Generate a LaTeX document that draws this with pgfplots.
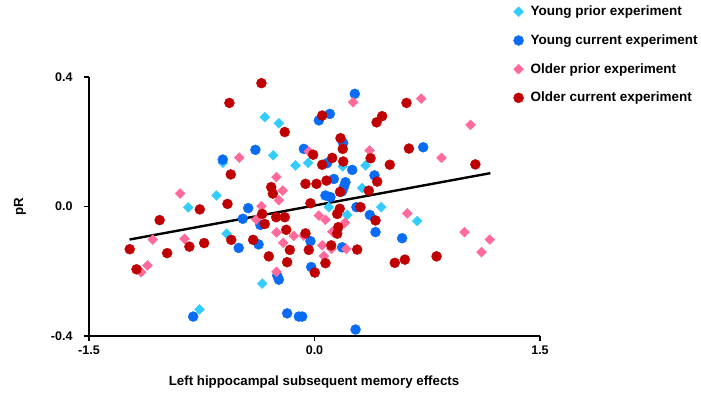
\documentclass[border=0pt]{standalone}
\usepackage{fontspec}
\setmainfont{Liberation Sans}
\usepackage{pgfplots}
\pgfplotsset{compat=1.18}

\definecolor{ypri}{HTML}{33CCFF}
\definecolor{ycur}{HTML}{0A6CF5}
\definecolor{opri}{HTML}{FF6A9A}
\definecolor{ocur}{HTML}{C00000}

\begin{document}
\begin{tikzpicture}
\path[use as bounding box] (0,0) rectangle (701pt,400pt);
\begin{axis}[
    at={(89pt,64pt)}, anchor=south west,
    scale only axis,
    width=451pt, height=259pt,
    xmin=-1.5, xmax=1.5, ymin=-0.4, ymax=0.4,
    axis lines*=left,
    axis line style={line width=2.2pt},
    xtick={-1.5,0,1.5}, ytick={-0.4,0,0.4},
    xticklabels={\textbf{-1.5},\textbf{0.0},\textbf{1.5}},
    yticklabels={\textbf{-0.4},\textbf{0.0},\textbf{0.4}},
    tick align=outside,
    major tick length=5pt,
    tick style={line width=1.6pt, black},
    tick label style={font=\fontsize{12.5}{14}\selectfont\bfseries},
    xticklabel style={yshift=-1pt},
    yticklabel style={xshift=-8pt},
    xlabel={Left hippocampal subsequent memory effects},
    ylabel={pR},
    xlabel style={font=\fontsize{13.3}{15}\selectfont\bfseries, at={(axis description cs:0.499,-0.178)}, anchor=center},
    ylabel style={font=\fontsize{13.3}{15}\selectfont\bfseries, at={(axis description cs:-0.153,0.5)}, anchor=center},
    clip=false,
    legend style={at={(rel axis cs:0.941,1.282)}, anchor=north west, draw=none, fill=none, inner sep=0pt,
        font=\fontsize{13.5}{15}\selectfont\bfseries, row sep=13.4pt,
        /tikz/every odd column/.append style={column sep=5pt}},
    legend cell align=left,
]
% Young prior experiment
\addplot[only marks, mark=square*, mark size=3.5pt, color=ypri, mark options={draw=ypri, fill=ypri, rotate=45}] coordinates {
(-0.331,0.276) (-0.237,0.257) (-0.275,0.158) (-0.126,0.127) (-0.042,0.135)
(-0.610,0.135) (0.188,0.124) (0.339,0.127) (0.317,0.057) (-0.652,0.034)
(-0.840,-0.003) (0.095,-0.002) (0.444,-0.002) (0.218,-0.026) (-0.585,-0.084)
(0.683,-0.045) (-0.348,-0.238) (-0.765,-0.318)
};
\addlegendentry{Young prior experiment}
% Young current experiment
\addplot[only marks, mark=*, mark size=5pt, color=ycur, mark options={draw=ycur, fill=ycur}] coordinates {
(0.268,0.348) (0.029,0.266) (0.102,0.286) (0.191,0.196) (-0.071,0.178)
(-0.393,0.175) (-0.610,0.145) (0.084,0.134) (0.251,0.113) (0.399,0.096)
(0.723,0.183) (0.129,0.085) (0.206,0.075) (0.195,0.060) (0.184,0.047)
(0.073,0.034) (0.106,0.029) (0.279,-0.002) (-0.441,-0.005) (-0.477,-0.038)
(-0.360,-0.057) (0.368,-0.026) (0.406,-0.079) (-0.504,-0.128) (-0.372,-0.117)
(-0.027,-0.107) (0.184,-0.126) (0.583,-0.098) (-0.022,-0.187) (-0.248,-0.213)
(-0.237,-0.226) (-0.182,-0.330) (-0.104,-0.340) (-0.082,-0.340) (-0.807,-0.340)
(0.273,-0.380)
};
\addlegendentry{Young current experiment}
% Older prior experiment
\addplot[only marks, mark=square*, mark size=3.5pt, color=opri, mark options={draw=opri, fill=opri, rotate=45}] coordinates {
(0.257,0.322) (0.710,0.333) (1.038,0.252) (-0.038,0.170) (-0.501,0.151)
(0.366,0.173) (0.845,0.150) (-0.253,0.091) (-0.211,0.049) (-0.237,0.019)
(-0.353,0.001) (-0.894,0.040) (-0.388,-0.040) (0.029,-0.028) (0.073,-0.041)
(0.202,-0.050) (0.118,-0.078) (-0.253,-0.080) (-0.138,-0.091) (-0.071,-0.090)
(-0.208,-0.112) (0.051,-0.120) (0.113,-0.131) (0.212,-0.131) (0.062,-0.153)
(0.073,-0.172) (-0.253,-0.202) (0.617,-0.021) (0.998,-0.079) (1.166,-0.102)
(1.111,-0.141) (-1.076,-0.102) (-0.865,-0.100) (-1.111,-0.182) (-1.153,-0.203)
};
\addlegendentry{Older prior experiment}
% Older current experiment
\addplot[only marks, mark=*, mark size=5pt, color=ocur, mark options={draw=ocur, fill=ocur}] coordinates {
(-0.566,0.320) (-0.353,0.381) (-0.198,0.230) (0.051,0.281) (0.413,0.260)
(0.450,0.279) (0.612,0.320) (0.173,0.211) (0.188,0.178) (-0.009,0.160)
(0.118,0.150) (0.191,0.139) (0.051,0.129) (0.373,0.149) (0.501,0.129)
(0.628,0.179) (1.070,0.130) (0.417,0.077) (-0.557,0.099) (-0.060,0.070)
(0.013,0.070) (0.080,0.080) (-0.288,0.060) (-0.277,0.040) (0.361,0.049)
(0.170,0.045) (-0.027,0.010) (-0.579,0.008) (-0.763,-0.009) (-1.030,-0.042)
(0.168,-0.007) (0.306,-0.002) (-0.348,-0.023) (-0.255,-0.033) (-0.198,-0.033)
(-0.331,-0.054) (-0.188,-0.072) (-0.060,-0.083) (0.151,-0.023) (0.158,-0.064)
(0.151,-0.084) (0.406,-0.043) (-0.408,-0.103) (-0.554,-0.103) (-0.164,-0.134)
(-0.038,-0.134) (0.111,-0.120) (0.284,-0.133) (-0.304,-0.154) (-0.182,-0.172)
(0.073,-0.175) (0.002,-0.204) (0.534,-0.174) (0.601,-0.164) (0.812,-0.154)
(-1.229,-0.132) (-0.980,-0.144) (-0.832,-0.124) (-0.734,-0.113) (-1.184,-0.194)
};
\addlegendentry{Older current experiment}
% fit line
\addplot[black, line width=2.4pt, forget plot] coordinates {(-1.23,-0.102) (1.17,0.103)};
\end{axis}
\end{tikzpicture}
\end{document}
